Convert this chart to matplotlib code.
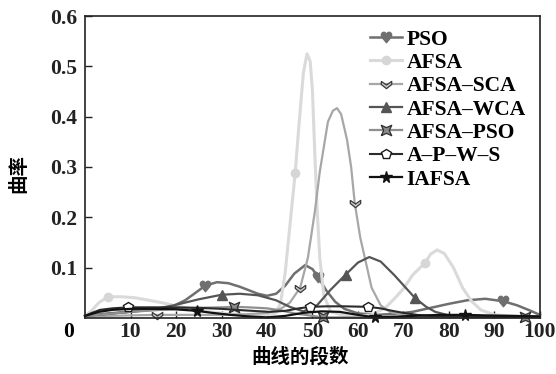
import matplotlib
matplotlib.use("Agg")
import matplotlib.pyplot as plt

# curvature per curve segment for each algorithm
pso_x = [0, 4, 8, 12, 16, 19, 22, 24, 26.4, 29, 31.5, 34, 36, 38, 40, 42, 44, 46, 48.4, 50, 51.2,
         53, 55, 57, 60, 64, 68, 72, 76, 80, 84, 88, 92, 95, 98, 100]
pso_y = [0.004, 0.008, 0.011, 0.014, 0.017, 0.022, 0.035, 0.048, 0.064, 0.071, 0.069, 0.062, 0.055,
         0.048, 0.044, 0.048, 0.064, 0.088, 0.105, 0.097, 0.082, 0.055, 0.032, 0.018, 0.009, 0.006,
         0.008, 0.012, 0.02, 0.028, 0.035, 0.038, 0.033, 0.025, 0.014, 0.006]
pso_mk = [26.4, 51.2, 92]

afsa_x = [0, 1.5, 3, 5, 8, 11, 14, 17, 20, 24, 28, 32, 36, 40, 42, 43, 44, 45, 46.2, 47, 48, 48.8,
          49.5, 50, 50.5, 51, 51.6, 52.5, 54, 57, 60, 63, 66, 68, 70, 72, 74.7, 76, 77.4, 79, 81, 83,
          85, 87, 90, 95, 100]
afsa_y = [0.004, 0.015, 0.03, 0.042, 0.042, 0.04, 0.035, 0.03, 0.024, 0.017, 0.011, 0.008, 0.006,
          0.006, 0.01, 0.03, 0.09, 0.18, 0.288, 0.38, 0.487, 0.525, 0.51, 0.45, 0.33, 0.22, 0.12,
          0.045, 0.012, 0.005, 0.004, 0.006, 0.02, 0.038, 0.058, 0.085, 0.109, 0.127, 0.135, 0.128,
          0.1, 0.06, 0.033, 0.016, 0.006, 0.003, 0.002]
afsa_mk = [5, 46.2, 74.7]

sca_x = [0, 5, 10, 15.8, 20, 25, 30, 35, 40, 43, 45, 47.3, 49, 50.5, 51.6, 53.4, 54.5, 55.4, 56.3,
         57.6, 58.5, 59.3, 60.5, 61.5, 63, 65, 67, 70, 75, 80, 90, 100]
sca_y = [0.003, 0.004, 0.005, 0.006, 0.006, 0.006, 0.006, 0.007, 0.01, 0.018, 0.03, 0.06, 0.12,
         0.21, 0.29, 0.39, 0.412, 0.417, 0.405, 0.354, 0.3, 0.228, 0.16, 0.12, 0.06, 0.025, 0.012,
         0.006, 0.004, 0.003, 0.003, 0.003]
sca_mk = [15.8, 47.3, 59.3]

wca_x = [0, 5, 10, 15, 20, 25, 30, 34, 38, 42, 45, 48, 51, 54, 57.3, 60, 62.5, 65, 68, 70, 72.5,
         75, 77, 80, 85, 90, 100]
wca_y = [0.004, 0.008, 0.012, 0.017, 0.026, 0.037, 0.046, 0.048, 0.045, 0.035, 0.022, 0.013,
         0.025, 0.056, 0.086, 0.11, 0.121, 0.112, 0.085, 0.065, 0.04, 0.022, 0.012, 0.005, 0.003,
         0.002, 0.002]
wca_mk = [30, 57.3, 72.5]

ap_x = [0, 5, 10, 15, 20, 25, 30, 32.7, 36, 40, 43, 46, 50, 52.3, 56, 60, 70, 80, 90, 96.7, 100]
ap_y = [0.004, 0.008, 0.012, 0.015, 0.018, 0.02, 0.021, 0.022, 0.021, 0.019, 0.015, 0.009, 0.004,
        0.001, 0.001, 0.001, 0.001, 0.001, 0.001, 0.001, 0.001]
ap_mk = [32.7, 52.3, 96.7]

apws_x = [0, 1.5, 3.3, 6, 9.5, 14, 20, 25, 30, 35, 40.6, 44, 47, 49.5, 53, 57, 62.2, 65, 67, 70,
          73, 76, 80, 90, 100]
apws_y = [0.004, 0.01, 0.016, 0.019, 0.021, 0.021, 0.021, 0.02, 0.018, 0.015, 0.012, 0.014,
          0.019, 0.022, 0.023, 0.023, 0.022, 0.019, 0.015, 0.01, 0.006, 0.004, 0.003, 0.002, 0.002]
apws_mk = [9.5, 49.5, 62.2]

iafsa_x = [0, 3, 6, 10, 15, 20, 24.6, 28, 32, 36, 40, 44, 48, 52, 56, 60, 63.7, 67, 72, 78, 83.5,
           88, 94, 100]
iafsa_y = [0.004, 0.012, 0.016, 0.018, 0.018, 0.017, 0.014, 0.01, 0.006, 0.003, 0.001, 0.004,
           0.01, 0.013, 0.012, 0.006, 0.001, 0.002, 0.004, 0.006, 0.006, 0.005, 0.004, 0.003]
iafsa_mk = [24.6, 63.7, 83.5]

x_ticks = [10, 20, 30, 40, 50, 60, 70, 80, 90, 100]
y_ticks = [0.1, 0.2, 0.3, 0.4, 0.5, 0.6]

# custom marker outlines
chevron = [(-1, 0.6), (0, -0.1), (1, 0.6), (1, 0.0), (0, -0.8), (-1, 0.0), (-1, 0.6)]
pinched_sq = [(-1, -1), (0, -0.55), (1, -1), (0.55, 0), (1, 1), (0, 0.55), (-1, 1), (-0.55, 0),
              (-1, -1)]

series = [
    ("PSO", pso_x, pso_y, pso_mk, dict(color="#6f6f6f", lw=1.8, marker="$\u2665$", ms=7.5,
                                       mfc="#6f6f6f", mec="#6f6f6f")),
    ("AFSA", afsa_x, afsa_y, afsa_mk, dict(color="#dadada", lw=2.2, marker="o", ms=6,
                                           mfc="#d6d6d6", mec="#d6d6d6")),
    ("AFSA\u2013SCA", sca_x, sca_y, sca_mk, dict(color="#a7a7a7", lw=1.6, marker=chevron, ms=7.5,
                                                  mfc="#c8c8c8", mec="#3a3a3a", mew=0.9)),
    ("AFSA\u2013WCA", wca_x, wca_y, wca_mk, dict(color="#555555", lw=1.6, marker="^", ms=6.5,
                                                  mfc="#555555", mec="#555555")),
    ("AFSA\u2013PSO", ap_x, ap_y, ap_mk, dict(color="#8f8f8f", lw=1.6, marker=pinched_sq, ms=7.5,
                                               mfc="#8a8a8a", mec="#2e2e2e", mew=0.9)),
    ("A\u2013P\u2013W\u2013S", apws_x, apws_y, apws_mk, dict(color="#2b2b2b", lw=1.5, marker="p",
                                                              ms=7.5, mfc="white", mec="#1a1a1a",
                                                              mew=1.0)),
    ("IAFSA", iafsa_x, iafsa_y, iafsa_mk, dict(color="#111111", lw=1.6, marker="*", ms=8.5,
                                               mfc="#111111", mec="#111111")),
]

fig = plt.figure(figsize=(5.56, 3.74), dpi=100)
ax = fig.add_axes([0.153, 0.150, 0.818, 0.807])

for name, xs, ys, mk, style in series:
    idx = [xs.index(m) for m in mk]
    ax.plot(xs, ys, label=name, markevery=idx, clip_on=False, **style)

ax.set_xlim(0, 100)
ax.set_ylim(0, 0.6)
ax.set_xticks(x_ticks)
ax.set_yticks(y_ticks)
tick_font = dict(family="Liberation Serif", weight="bold", size=15.5)
ax.set_xticklabels([str(v) for v in x_ticks], **tick_font)
ax.set_yticklabels([f"{v:.1f}" for v in y_ticks], **tick_font)
ax.text(-0.037, -0.013, "0", transform=ax.transAxes, ha="center", va="top", **tick_font)
ax.tick_params(axis="both", direction="in", length=5, width=1.0, colors="#222222")
ax.tick_params(axis="x", pad=3)
ax.tick_params(axis="y", pad=5.5)
for sp in ax.spines.values():
    sp.set_linewidth(1.2)
    sp.set_color("#222222")

cjk = dict(family="Noto Sans CJK SC", weight="bold", size=14)
ax.set_xlabel("曲线的段数", **cjk)
ax.set_ylabel("曲率", **cjk)
ax.xaxis.set_label_coords(0.473, -0.095)
ax.yaxis.set_label_coords(-0.125, 0.48)

ax.legend(loc="upper left", bbox_to_anchor=(0.626, 0.955), frameon=False,
          prop=dict(family="Liberation Serif", weight="bold", size=15.5),
          handlelength=1.5, handletextpad=0.2, labelspacing=0.15,
          borderpad=0, borderaxespad=0)

fig.savefig("out.png", dpi=100)
